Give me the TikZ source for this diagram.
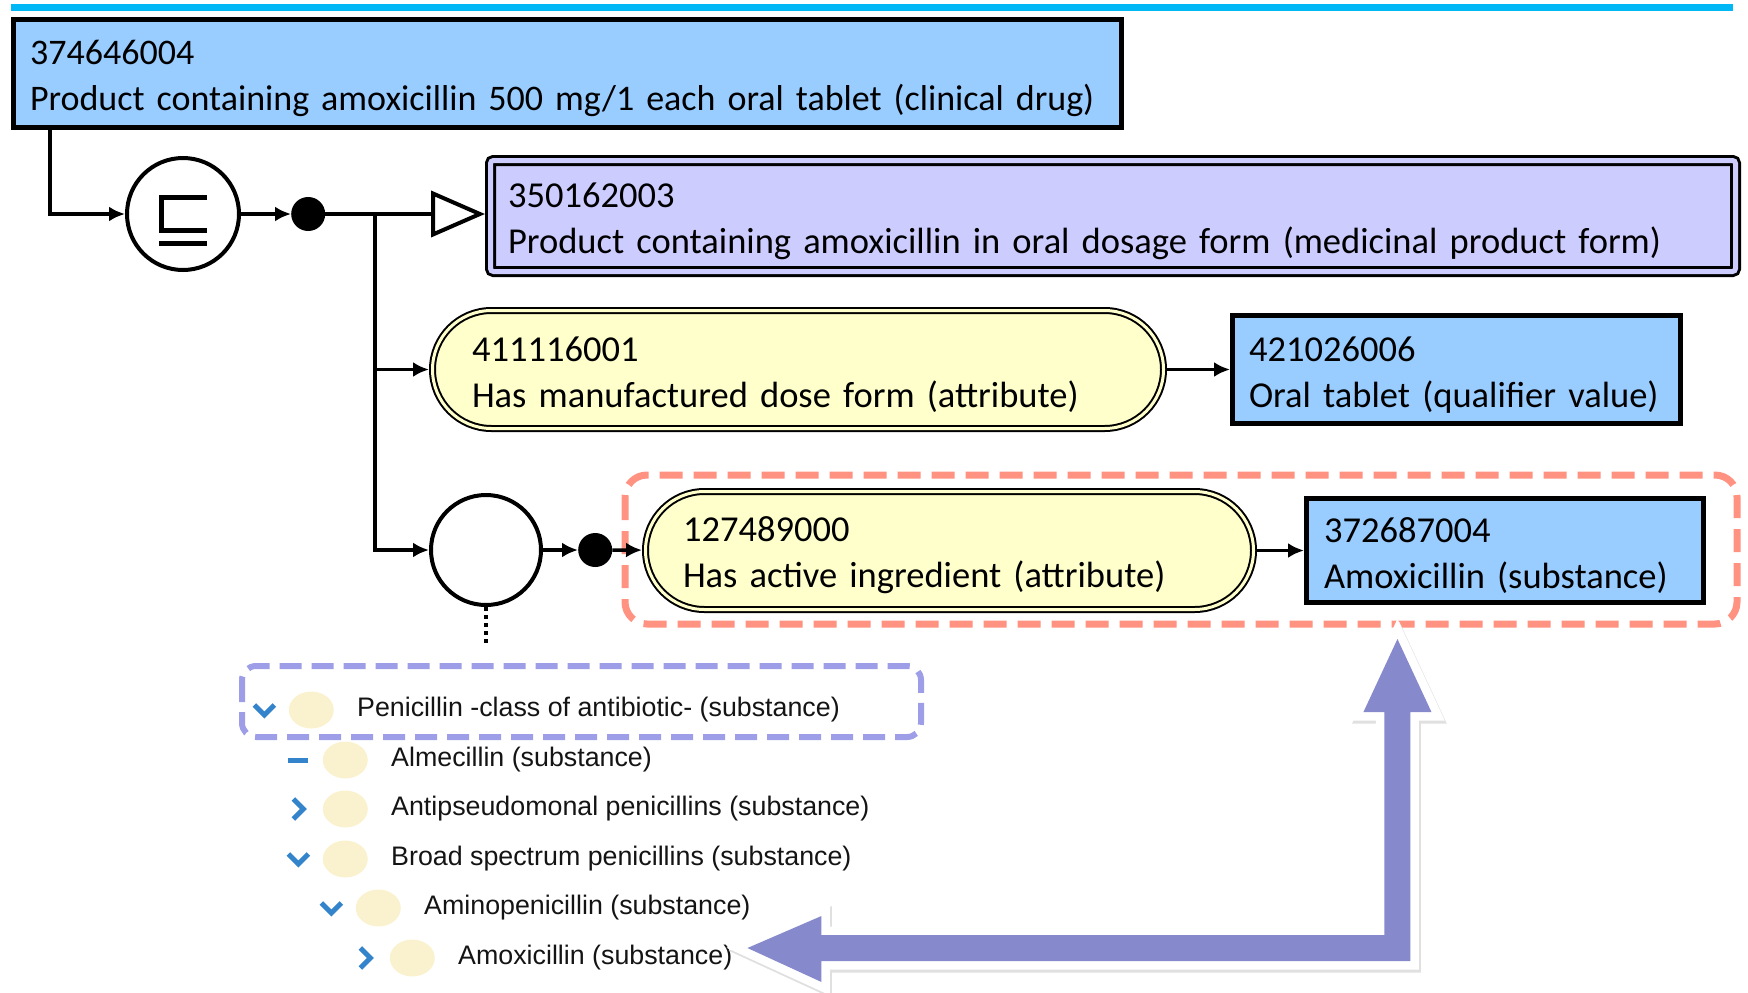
\documentclass[tikz,border=0pt]{standalone}
\usepackage{fontspec}
\setmainfont{Carlito}
\newfontfamily\treefont{Liberation Sans}
\usepackage{tikz}
\usetikzlibrary{shapes.geometric,arrows,arrows.meta,positioning}

\definecolor{conceptblue}{RGB}{153,204,255}
\definecolor{formlilac}{RGB}{204,204,255}
\definecolor{attryellow}{RGB}{255,255,204}
\definecolor{topcyan}{RGB}{0,184,245}
\definecolor{focusred}{RGB}{255,146,128}
\definecolor{focuslilac}{RGB}{158,158,232}
\definecolor{bigpurple}{RGB}{134,138,204}
\definecolor{treeblue}{RGB}{52,132,204}
\definecolor{treebubble}{RGB}{250,242,206}
\definecolor{treetext}{RGB}{20,20,20}

\tikzstyle{concept} = [ rectangle, draw = black, line width = 5pt, %
                        fill = conceptblue, inner xsep = 16.5pt, inner ysep = 0pt, %
                        align = left, font = \fontsize{36.5}{46}\selectfont, %
                        execute at begin node = \rule{0pt}{35pt} ]
\tikzstyle{defined} = [ rectangle, rounded corners = 3pt, draw = black, %
                        line width = 3pt, double = formlilac, double distance = 5pt, %
                        fill = formlilac, outer sep = 5.5pt, inner xsep = 17.5pt, %
                        inner ysep = 0pt, align = left, font = \fontsize{36.5}{46}\selectfont, %
                        execute at begin node = \rule{0pt}{35pt} ]
\tikzstyle{attr} = [ rectangle, rounded corners = 59pt, draw = black, %
                     line width = 2pt, double = attryellow, double distance = 3pt, %
                     fill = attryellow, outer sep = 3.5pt, inner ysep = 0pt, %
                     minimum height = 118pt, align = left, font = \fontsize{36.5}{46}\selectfont, %
                     execute at begin node = \rule{0pt}{35pt} ]
\tikzstyle{junction} = [ circle, draw = black, line width = 4pt, fill = white, inner sep = 0pt ]
\tikzstyle{blackdot} = [ circle, fill = black, minimum size = 34pt, inner sep = 0pt ]
\tikzstyle{arrow} = [ line width = 3.5pt, ->, >={Latex[length=16pt,width=15pt]} ]
\tikzstyle{isa} = [ line width = 4pt, -{Triangle[length=54pt,width=46pt,fill=white]} ]
\tikzstyle{treeitem} = [ anchor = west, inner sep = 0pt, text = treetext, %
                         font = \treefont\fontsize{26.8}{30}\selectfont ]
\tikzstyle{bubble} = [ ellipse, fill = treebubble, minimum width = 45pt, %
                       minimum height = 37pt, inner sep = 0pt ]
\tikzstyle{chev} = [ draw = treeblue, line width = 5pt ]

\tikzset{chevdown/.pic  = {\draw [chev] (-10,-5) -- (0,5) -- (10,-5);},
         chevright/.pic = {\draw [chev] (-5,-10) -- (5,0) -- (-5,10);},
         leafdash/.pic  = {\draw [chev] (-10,0) -- (10,0);}}

\newcommand{\bigarrowpath}{(tipL) -- ++(74,-32) -- ++(0,19) -- ++(563,0) -- ++(0,-223) %
  -- ++(-21,0) -- ++(34,-73) -- ++(34,73) -- ++(-21,0) -- ++(0,249) %
  -- ++(-589,0) -- ++(0,21) -- cycle}

\begin{document}
\begin{tikzpicture}[x = 1pt, y = -1pt]
      \useasboundingbox (0,0) rectangle (1748,993);
      \draw [topcyan, line width = 7pt] (11,7) -- (1733,7);
      % Boxes
      \node (prod) [concept, text width = 1075pt, minimum height = 108pt,
        font = \fontsize{36}{46}\selectfont] at (567.5,73.5)
        {374646004\\\mbox{Product containing amoxicillin 500 mg/1 each oral tablet (clinical drug)}};
      \node (form) [defined, text width = 1210pt, minimum height = 111pt] at (1113,216)
        {350162003\\Product containing amoxicillin in oral dosage form (medicinal product form)};
      \node (subsume) [junction, minimum size = 112pt,
        path picture = {\draw [line width = 5pt] ([shift={(24,-17)}]path picture bounding box.center)
                          -- ++(-46,0) -- ++(0,33) -- ++(46,0);
                        \draw [line width = 5pt] ([shift={(-24,29)}]path picture bounding box.center)
                          -- ++(48,0);}] at (183,214) {};
      \node (dot1) [blackdot, right = 50pt of subsume] {};
      \node (doseattr) [attr, inner xsep = 39.5pt, text width = 652pt] at (798,369.5)
        {411116001\\Has manufactured dose form (attribute)};
      \node (doseval) [concept, text width = 415pt, minimum height = 108pt, right = 63pt of doseattr]
        {421026006\\Oral tablet (qualifier value)};
      \node (group) [junction, minimum size = 110pt] at (486,550) {};
      \node (dot2) [blackdot, right = 35pt of group] {};
      \node (ingrattr) [attr, inner xsep = 37.5pt, text width = 533pt] at (949.5,550.5)
        {127489000\\Has active ingredient (attribute)};
      \node (ingrval) [concept, inner xsep = 17.5pt, text width = 362pt, minimum height = 104pt,
        right = 47pt of ingrattr] {372687004\\Amoxicillin (substance)};
      \coordinate (fork) at (375,214);
      % Highlights
      \draw [focusred, line width = 7pt, rounded corners = 22pt, dash pattern = on 23pt off 11pt]
        (625,475) rectangle (1737,624);
      \draw [focuslilac, line width = 6pt, rounded corners = 14pt, dash pattern = on 22pt off 10pt]
        (242,666) rectangle (921,737);
      % Arrows
      \draw [arrow] ([xshift=39pt]prod.south west) |- (subsume);
      \draw [arrow] (subsume) -- (dot1);
      \draw [isa] (dot1) -- (dot1 -| form.west);
      \draw [line width = 3.5pt] (dot1) -- (fork);
      \draw [arrow] (fork) |- (doseattr);
      \draw [arrow] (fork) |- (group);
      \draw [arrow] (doseattr) -- (doseval);
      \draw [arrow] (group) -- (dot2);
      \draw [arrow] (dot2) -- (ingrattr);
      \draw [arrow] (ingrattr) -- (ingrval);
      \draw [line width = 3.5pt, dash pattern = on 4pt off 4pt] (group.south) -- ++(0,37);
      % Hierarchy
      \node (t1) [treeitem] at (357,710) {Penicillin -class of antibiotic- (substance)};
      \node (t2) [treeitem] at (391,760) {Almecillin (substance)};
      \node (t3) [treeitem] at (391,809) {Antipseudomonal penicillins (substance)};
      \node (t4) [treeitem] at (391,859) {Broad spectrum penicillins (substance)};
      \node (t5) [treeitem] at (424,908) {Aminopenicillin (substance)};
      \node (t6) [treeitem] at (458,958) {Amoxicillin (substance)};
      \foreach \i in {1,...,6}
        \node (b\i) [bubble, left = 23pt of t\i] {};
      \pic at ([xshift=-47pt]b1.center) {chevdown};
      \pic at ([xshift=-47pt]b2.center) {leafdash};
      \pic at ([xshift=-47pt]b3.center) {chevright};
      \pic at ([xshift=-47pt]b4.center) {chevdown};
      \pic at ([xshift=-47pt]b5.center) {chevdown};
      \pic at ([xshift=-47pt]b6.center) {chevright};
      % Big arrow
      \coordinate (tipL) at ([xshift=15pt,yshift=10pt]t6.east);
      \draw [black!12, line width = 17pt, line join = miter,
        transform canvas = {shift={(2pt,-3pt)}}] \bigarrowpath;
      \draw [white, line width = 17pt, line join = miter] \bigarrowpath;
      \fill [bigpurple] \bigarrowpath;
\end{tikzpicture}
\end{document}
